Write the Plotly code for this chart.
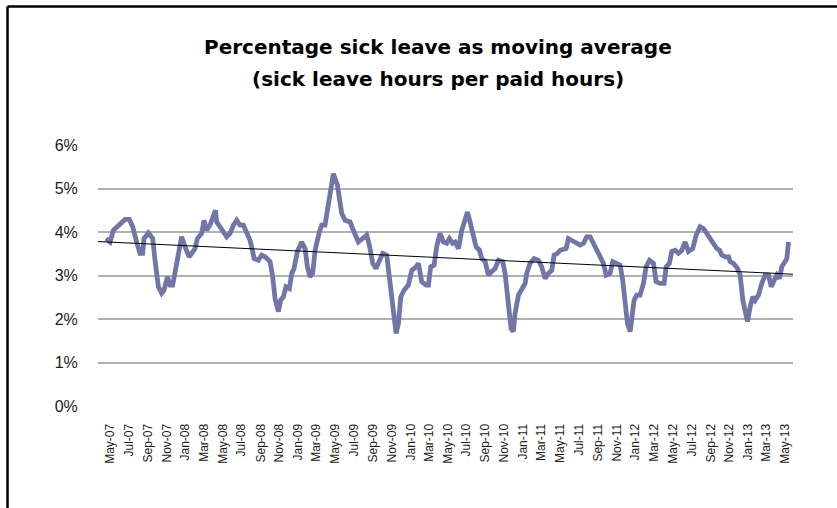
import numpy as np
import pandas as pd
import plotly.graph_objects as go

# Months since 1 May 2007 and moving-average sick leave (%)
month_offset = [
    -0.43, 0.00, 0.36, 0.89, 1.60, 2.06, 2.42, 2.84, 3.20, 3.48, 3.63, 4.09, 4.55, 4.80,
    5.16, 5.51, 5.76, 6.12, 6.40, 6.68, 7.04, 7.40, 7.64, 8.00, 8.43, 8.71, 9.07, 9.32,
    9.78, 10.03, 10.31, 10.67, 10.95, 11.24, 11.38, 11.91, 12.44, 12.80, 13.16, 13.51,
    13.87, 14.22, 14.58, 14.93, 15.22, 15.36, 15.82, 16.18, 16.53, 17.07, 17.35, 17.60,
    17.96, 18.20, 18.49, 18.77, 19.13, 19.38, 19.63, 19.98, 20.44, 20.80, 21.05, 21.33,
    21.62, 21.87, 22.33, 22.58, 22.93, 23.18, 23.47,
    23.82, 24.25, 24.71, 25.07, 25.60, 26.03, 26.49, 26.95, 27.38, 27.66, 28.02, 28.37,
    28.73, 29.09, 29.51, 29.87, 30.22, 30.51, 30.76, 31.01, 31.36, 31.82, 32.18, 32.64,
    32.89, 33.24, 33.71, 33.96, 34.20, 34.56, 34.84, 35.20, 35.56, 35.91, 36.20, 36.55,
    36.80, 37.16, 37.51, 37.87, 38.12, 38.40, 38.76, 39.04, 39.40, 39.64, 40.00, 40.36,
    40.71, 41.07, 41.42, 41.88, 42.13, 42.49, 42.77, 43.02, 43.20, 43.56, 43.91, 44.27,
    44.44, 44.80, 45.23, 45.69, 46.04, 46.40, 46.76, 47.11, 47.36, 47.72, 48.00, 48.36,
    48.64, 48.89, 49.24, 49.78,
    50.13, 50.49, 50.84, 51.20, 51.56, 51.91, 52.27, 52.62, 52.91, 53.33, 53.62, 54.04,
    54.40, 54.68, 54.93, 55.18, 55.47, 55.64, 55.89, 56.18, 56.53, 56.89, 57.17, 57.53,
    57.96, 58.24, 58.67, 59.09, 59.31, 59.66, 59.91, 60.27, 60.62, 60.98, 61.33, 61.69,
    62.15, 62.51, 62.93, 63.29, 63.64, 64.00, 64.36, 64.71, 65.00, 65.24, 65.60, 65.96,
    66.13, 66.49, 66.92, 67.20, 67.49, 67.73, 67.98, 68.27, 68.55, 68.80, 69.16, 69.51,
    69.87, 70.22, 70.51, 70.83, 71.11, 71.40, 71.64, 72.00, 72.18, 72.36,
]
sick_leave_pct = [
    3.85, 3.77, 4.04, 4.16, 4.29, 4.29, 4.12, 3.77, 3.51, 3.51, 3.85, 3.98, 3.85, 3.35,
    2.74, 2.59, 2.66, 2.97, 2.78, 2.78, 3.20, 3.70, 3.89, 3.66, 3.43, 3.51, 3.62, 3.85,
    3.97, 4.27, 4.04, 4.16, 4.31, 4.50, 4.23, 4.04, 3.89, 3.97, 4.16, 4.27,
    4.16, 4.16, 4.00, 3.81, 3.55, 3.39, 3.35, 3.47, 3.43, 3.32, 2.97, 2.47,
    2.17, 2.43, 2.51, 2.74, 2.70, 3.05, 3.16, 3.55, 3.77, 3.62, 3.20, 2.97,
    3.05, 3.58, 4.00, 4.16, 4.16, 4.50, 4.92,
    5.34, 5.08, 4.43, 4.27, 4.23, 4.00, 3.77, 3.85, 3.93, 3.70, 3.28, 3.16,
    3.35, 3.51, 3.47, 2.82, 2.05, 1.67, 1.90, 2.51, 2.66, 2.78, 3.12, 3.20,
    3.28, 2.86, 2.78, 2.78, 3.20, 3.24, 3.66, 3.97, 3.77, 3.74, 3.85, 3.74,
    3.77, 3.62, 4.04, 4.31, 4.46, 4.23, 3.89, 3.66, 3.58, 3.39, 3.32, 3.01,
    3.09, 3.16, 3.35, 3.32, 3.05, 2.36, 1.78, 1.71, 2.13, 2.55, 2.66, 2.82,
    3.05, 3.28, 3.39, 3.35, 3.20, 2.93, 3.05, 3.12, 3.47, 3.51, 3.58, 3.62,
    3.62, 3.85, 3.81, 3.77,
    3.70, 3.74, 3.89, 3.89, 3.74, 3.62, 3.47, 3.28, 3.01, 3.05, 3.32, 3.28,
    3.24, 2.89, 2.36, 1.90, 1.71, 1.98, 2.43, 2.55, 2.55, 2.82, 3.20, 3.35,
    3.28, 2.86, 2.82, 2.82, 3.20, 3.28, 3.55, 3.58, 3.51, 3.58, 3.77, 3.55,
    3.62, 3.93, 4.12, 4.08, 3.97, 3.85, 3.70, 3.62, 3.58, 3.47, 3.43, 3.43,
    3.32, 3.28, 3.16, 3.01, 2.43, 2.13, 1.94, 2.28, 2.51, 2.43, 2.55, 2.82,
    3.01, 3.01, 2.74, 2.89, 3.01, 2.93, 3.20, 3.32, 3.39, 3.77,
]

# Linear trend line (at both ends of the axis)
trend_dates = ["2007-03-23", "2013-05-26"]
trend_pct = [3.78, 3.03]

title_line1 = "Percentage sick leave as moving average"
title_line2 = "(sick leave hours per paid hours)"

base = pd.Timestamp("2007-05-01")
dates = base + pd.to_timedelta(np.array(month_offset) * 30.4375, unit="D")

fig = go.Figure()
fig.add_trace(go.Scatter(
    x=dates, y=sick_leave_pct, mode="lines",
    line=dict(color="#7175a8", width=4.8, shape="linear"),
    showlegend=False, hoverinfo="skip",
))
fig.add_trace(go.Scatter(
    x=trend_dates, y=trend_pct, mode="lines",
    line=dict(color="#000000", width=1),
    showlegend=False, hoverinfo="skip",
))

fig.update_layout(
    width=837, height=508,
    margin=dict(l=98, r=44, t=145, b=102),
    paper_bgcolor="white", plot_bgcolor="white",
    font=dict(family="Liberation Sans, Arial, sans-serif", color="#1a1a1a"),
    xaxis=dict(
        type="date",
        range=trend_dates,
        tick0="2007-05-01", dtick="M2", tickformat="%b-%y",
        tickangle=-90,
        tickfont=dict(size=12, family="Liberation Sans, Arial, sans-serif", color="#1a1a1a"),
        showgrid=False, zeroline=False, showline=False,
        ticks="outside", ticklen=12, tickcolor="rgba(0,0,0,0)",
    ),
    yaxis=dict(
        range=[0, 6.0], dtick=1, ticksuffix="%",
        tickfont=dict(size=16, family="Liberation Sans, Arial, sans-serif", color="#1a1a1a"),
        showgrid=True, gridcolor="#b0b0b0", gridwidth=1.5,
        zeroline=False, showline=False,
        ticks="outside", ticklen=16, tickcolor="rgba(0,0,0,0)",
    ),
    annotations=[
        dict(text="<b>%s</b>" % title_line1, xref="paper", yref="paper",
             x=0.4892, y=1.3751, xanchor="center", yanchor="middle", showarrow=False,
             font=dict(family="DejaVu Sans", size=20, color="#000000")),
        dict(text="<b>%s</b>" % title_line2, xref="paper", yref="paper",
             x=0.4892, y=1.2510, xanchor="center", yanchor="middle", showarrow=False,
             font=dict(family="DejaVu Sans", size=20, color="#000000")),
    ],
    shapes=[
        dict(type="line", xref="paper", yref="paper", x0=-0.1302, x1=1.2, y0=1.5307, y1=1.5307,
             line=dict(color="#000000", width=2.5)),
        dict(type="line", xref="paper", yref="paper", x0=-0.1302, x1=-0.1302, y0=-0.6, y1=1.5307,
             line=dict(color="#000000", width=2.5)),
    ],
)

fig.write_html(
    "out.html",
    config={"displayModeBar": False},
    post_script="document.body.style.margin='0';document.body.style.overflow='hidden';",
)
